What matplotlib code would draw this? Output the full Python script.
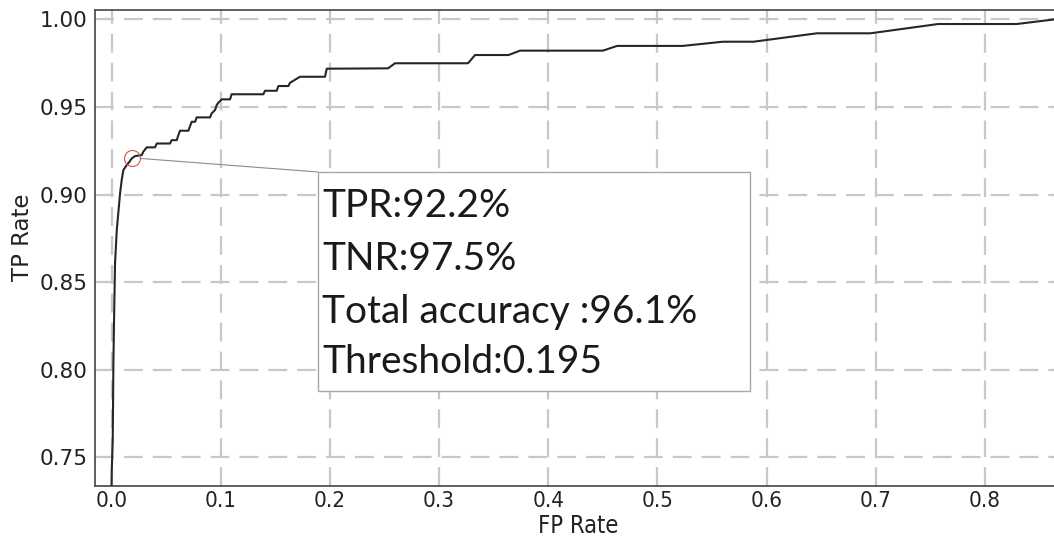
import matplotlib
matplotlib.use("Agg")
import matplotlib.pyplot as plt
from matplotlib.patches import Rectangle

# ROC curve vertices
fpr = [0.0000, 0.0002, 0.0011, 0.0017, 0.0023, 0.0032, 0.0048, 0.0078, 0.0093, 0.0108,
       0.0139, 0.0163, 0.0185, 0.0215, 0.0277, 0.0291, 0.0322, 0.0398, 0.0414, 0.0536,
       0.0551, 0.0597, 0.0612, 0.0627, 0.0704, 0.0719, 0.0734, 0.0765, 0.0780, 0.0902,
       0.0917, 0.0948, 0.0963, 0.0978, 0.1009, 0.1085, 0.1100, 0.1390, 0.1406, 0.1513,
       0.1528, 0.1619, 0.1635, 0.1665, 0.1726, 0.1955, 0.1971, 0.2532, 0.2596, 0.3265,
       0.3329, 0.3636, 0.3741, 0.4500, 0.4630, 0.5230, 0.5600, 0.5880, 0.6460, 0.6950,
       0.7570, 0.8290, 0.8630]
tpr = [0.7337, 0.7426, 0.7597, 0.8035, 0.8283, 0.8607, 0.8797, 0.9007, 0.9083, 0.9140,
       0.9169, 0.9187, 0.9207, 0.9220, 0.9226, 0.9245, 0.9270, 0.9270, 0.9292, 0.9292,
       0.9311, 0.9311, 0.9340, 0.9365, 0.9365, 0.9391, 0.9416, 0.9416, 0.9441, 0.9441,
       0.9464, 0.9483, 0.9511, 0.9525, 0.9544, 0.9544, 0.9573, 0.9573, 0.9593, 0.9593,
       0.9620, 0.9620, 0.9639, 0.9650, 0.9673, 0.9673, 0.9719, 0.9721, 0.9750, 0.9750,
       0.9797, 0.9797, 0.9822, 0.9822, 0.9849, 0.9849, 0.9873, 0.9873, 0.9921, 0.9921,
       0.9974, 0.9974, 1.0000]

# Selected operating point
op_fpr = [0.019]
op_tpr = [0.921]

annotation_lines = ["TPR:92.2%", "TNR:97.5%", "Total accuracy :96.1%", "Threshold:0.195"]

xticks = [0.0, 0.1, 0.2, 0.3, 0.4, 0.5, 0.6, 0.7, 0.8]
xticklabels = ["0.0", "0.1", "0.2", "0.3", "0.4", "0.5", "0.6", "0.7", "0.8"]
yticks = [0.75, 0.80, 0.85, 0.90, 0.95, 1.00]
yticklabels = ["0.75", "0.80", "0.85", "0.90", "0.95", "1.00"]

W, H = 1054, 542
fig = plt.figure(figsize=(W / 100, H / 100), dpi=100)
ax_left, ax_right, ax_top, ax_bottom = 94.5, 1061.5, 10, 485.5
ax = fig.add_axes([ax_left / W, 1 - ax_bottom / H, (ax_right - ax_left) / W, (ax_bottom - ax_top) / H])

ax.set_xlim(-0.0156, 0.8700)
ax.set_ylim(0.7340, 1.0054)

ax.grid(True, color="#c8c8c8", linewidth=1.6, linestyle=(0, (8.5, 4.5)), zorder=0)
ax.set_axisbelow(True)

ax.plot(fpr, tpr, color="#262626", linewidth=1.5, zorder=3)
ax.plot(op_fpr, op_tpr, marker="o", markersize=11.5, markerfacecolor="none",
        markeredgecolor="#d9534a", markeredgewidth=0.8, linestyle="none", zorder=4)

for s in ax.spines.values():
    s.set_color("#444444")
    s.set_linewidth(1.2)
ax.spines["right"].set_visible(False)

ax.set_xticks(xticks)
ax.set_xticklabels(xticklabels, fontsize=16, family="DejaVu Sans", fontstretch="condensed", color="#222222")
ax.set_yticks(yticks)
ax.set_yticklabels(yticklabels, fontsize=15.5, color="#222222")
ax.tick_params(axis="both", length=0)
ax.tick_params(axis="x", pad=4)
ax.tick_params(axis="y", pad=5)

ax.set_xlabel("FP Rate", fontsize=17, family="DejaVu Sans", fontstretch="condensed", color="#222222")
ax.set_ylabel("TP Rate", fontsize=16.5, color="#222222")
axw = ax_right - ax_left
axh = ax_bottom - ax_top
ax.xaxis.set_label_coords(0.5, (ax_bottom - 514) / axh)
ax.yaxis.set_label_coords((34 - ax_left) / axw, (ax_bottom - 237) / axh)

# annotation box
bx0, by0, bx1, by1 = 318, 172, 750, 391
box_x = (bx0 - ax_left) / axw
box_y = (ax_bottom - by1) / axh
box_w = (bx1 - bx0) / axw
box_h = (by1 - by0) / axh
ax.add_patch(Rectangle((box_x, box_y), box_w, box_h, transform=ax.transAxes,
                       facecolor="white", edgecolor="#a8a8a8", linewidth=1.0, zorder=5))
ax.annotate("", xy=(op_fpr[0] + 0.007, op_tpr[0] - 0.0003), xycoords="data",
            xytext=(box_x, (ax_bottom - by0) / axh), textcoords="axes fraction",
            arrowprops=dict(arrowstyle="-", color="#8c8c8c", linewidth=0.8,
                            shrinkA=0, shrinkB=0), zorder=5)

baselines = [216.7, 270.0, 323.3, 373.3]
for line, bl in zip(annotation_lines, baselines):
    ax.text((322 - ax_left) / axw, (ax_bottom - bl) / axh, line, transform=ax.transAxes,
            fontsize=28, family=["Lato", "DejaVu Sans"], color="#1a1a1a",
            ha="left", va="baseline", zorder=6)

fig.savefig("out.png", dpi=100)
